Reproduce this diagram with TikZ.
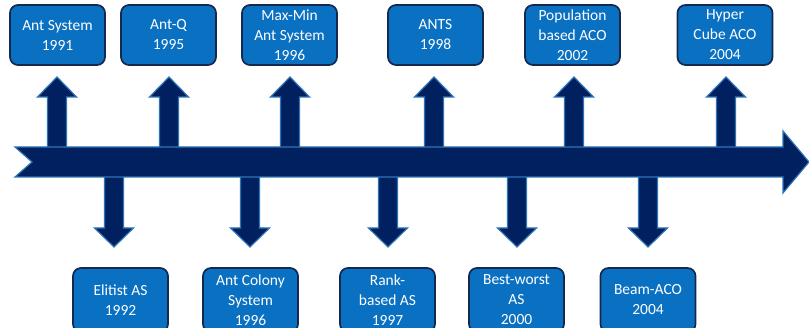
\documentclass[tikz,border=0pt]{standalone}
\usepackage{fontspec}
\setmainfont{Carlito}
\definecolor{boxfill}{HTML}{0A70C2}
\definecolor{boxline}{HTML}{142850}
\definecolor{arrfill}{HTML}{002060}
\definecolor{arrline}{HTML}{2E75B6}
\tikzset{
  evbox/.style={draw=boxline, line width=1.7pt, fill=boxfill, rounded corners=8pt,
    minimum width=95pt, inner sep=0pt, align=center, text=white,
    font=\fontsize{15.5}{20}\selectfont},
  topbox/.style={evbox, minimum height=60pt},
  botbox/.style={evbox, minimum height=64pt},
  blockarrow/.style={draw=arrline, line width=1.2pt, fill=arrfill, line join=miter}
}
\begin{document}
\begin{tikzpicture}[x=1pt,y=-1pt]
\useasboundingbox (0,0) rectangle (809,328);
% up arrows
\foreach \c in {57,169,290,434,574,726}{
  \draw[blockarrow] ({\c-9.5},150) -- ({\c-9.5},97) -- ({\c-19.5},97) -- (\c,77)
    -- ({\c+19.5},97) -- ({\c+9.5},97) -- ({\c+9.5},150) -- cycle;
}
% down arrows
\foreach \c in {114,250,388,517,648}{
  \draw[blockarrow] ({\c-9.5},174) -- ({\c-9.5},228) -- ({\c-19.5},228) -- (\c,247)
    -- ({\c+19.5},228) -- ({\c+9.5},228) -- ({\c+9.5},174) -- cycle;
}
% main timeline arrow
\draw[blockarrow] (15,147) -- (783,147) -- (783,131) -- (809,162) -- (783,193)
  -- (783,177) -- (15,177) -- (32,162) -- cycle;
% top boxes
\node[topbox] (as)   at (57.5,35)  {Ant System\\1991};
\node[topbox] (aq)   at (168.5,35) {Ant-Q\\1995};
\node[topbox] (mm)   at (289.5,35) {Max-Min\\Ant System\\1996};
\node[topbox] (ants) at (435.5,35) {ANTS\\1998};
\node[topbox] (pop)  at (572.5,35) {Population\\based ACO\\2002};
\node[topbox] (hyp)  at (725,35)   {Hyper\\Cube ACO\\2004};
% bottom boxes
\node[botbox] (eas)  at (120.5,300) {Elitist AS\\1992};
\node[botbox] (acs)  at (250.5,300) {Ant Colony\\System\\1996};
\node[botbox] (rank) at (387.5,300) {Rank-\\based AS\\1997};
\node[botbox] (bw)   at (516.5,300) {Best-worst\\AS\\2000};
\node[botbox] (beam) at (648,300)   {Beam-ACO\\2004};
\end{tikzpicture}
\end{document}
